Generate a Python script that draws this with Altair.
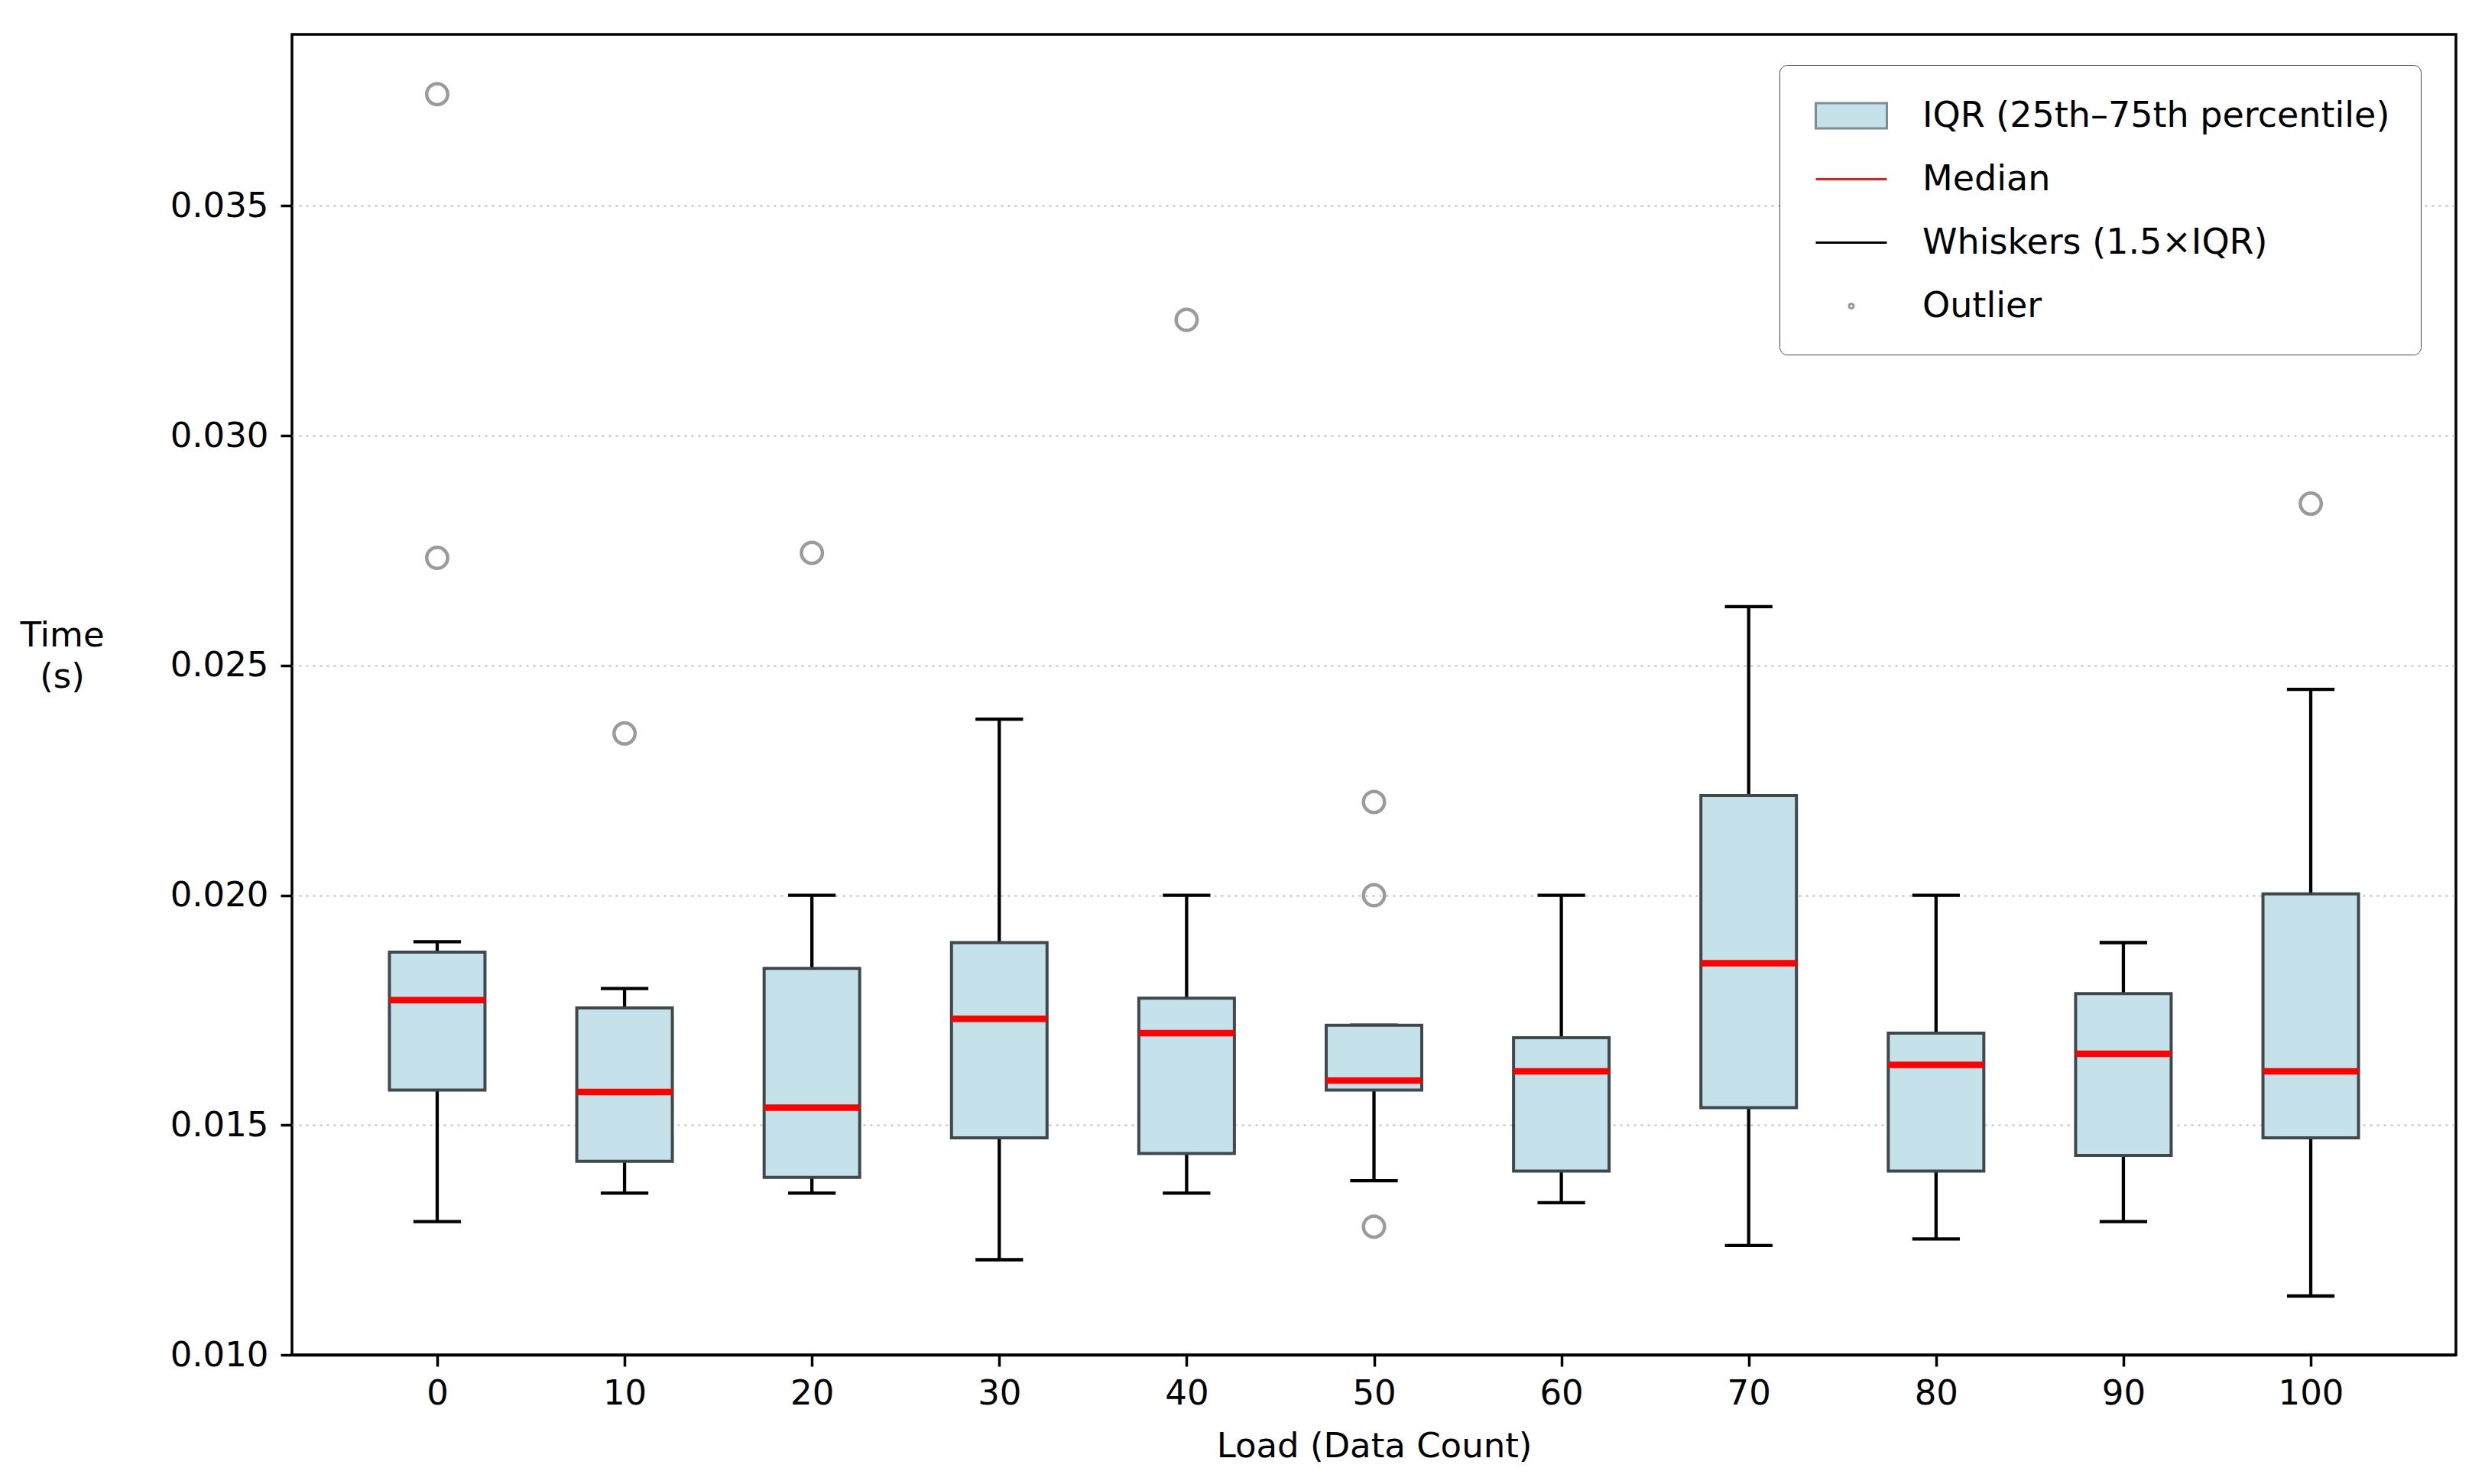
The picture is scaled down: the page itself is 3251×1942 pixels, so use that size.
import altair as alt
import pandas as pd

# ---- data ----
loads = [0, 10, 20, 30, 40, 50, 60, 70, 80, 90, 100]
q1 = [0.01576, 0.01421, 0.01386, 0.01472, 0.01438, 0.01576, 0.01400, 0.01538, 0.01400, 0.01434, 0.01472]
median = [0.01772, 0.01572, 0.01538, 0.01731, 0.01700, 0.01597, 0.01617, 0.01852, 0.01631, 0.01655, 0.01617]
q3 = [0.01876, 0.01755, 0.01841, 0.01897, 0.01776, 0.01717, 0.01690, 0.02217, 0.01700, 0.01786, 0.02003]
whisk_lo = [0.01290, 0.01352, 0.01352, 0.01207, 0.01352, 0.01379, 0.01331, 0.01238, 0.01252, 0.01290, 0.01128]
whisk_hi = [0.01899, 0.01797, 0.02000, 0.02383, 0.02000, 0.01717, 0.02000, 0.02628, 0.02000, 0.01897, 0.02448]

outlier_load = [0, 0, 10, 20, 40, 50, 50, 50, 100]
outlier_val = [0.03743, 0.02734, 0.02352, 0.02745, 0.03252, 0.02203, 0.02000, 0.01279, 0.02852]

legend_items = ["IQR (25th\u201375th percentile)", "Median", "Whiskers (1.5\u00d7IQR)", "Outlier"]
x_ticks = [0, 10, 20, 30, 40, 50, 60, 70, 80, 90, 100]
y_ticks = [0.010, 0.015, 0.020, 0.025, 0.030, 0.035]

boxes = pd.DataFrame({"load": loads, "q1": q1, "med": median, "q3": q3,
                      "lo": whisk_lo, "hi": whisk_hi})
outs = pd.DataFrame({"load": outlier_load, "val": outlier_val})
leg = pd.DataFrame({"item": legend_items})

FONT = "DejaVu Sans"
FS = 45
BOX_FILL = "#c5e2eb"

x_axis = alt.Axis(values=x_ticks, title="Load (Data Count)", grid=False,
                  domain=True, domainColor="black", domainWidth=3.5, zindex=1,
                  tickSize=15, tickWidth=3.5, tickColor="black", labelPadding=13,
                  labelFontSize=FS, labelFont=FONT, labelColor="black",
                  titleFontSize=FS, titleFont=FONT, titleColor="black",
                  titleFontWeight="normal", titlePadding=24)
y_axis = alt.Axis(values=y_ticks, format=".3f", title=["Time", "(s)"], grid=True,
                  gridDash=[3, 6], gridColor="#bdbdbd", gridWidth=2, domain=False,
                  tickSize=15, tickWidth=3.5, tickColor="black", labelPadding=16,
                  labelFontSize=FS, labelFont=FONT, labelColor="black",
                  titleFontSize=FS, titleFont=FONT, titleColor="black",
                  titleFontWeight="normal", titleAngle=0, titleAlign="center",
                  titleBaseline="middle", titleX=-301, titleY=786, titleLineHeight=54)
x_scale = alt.Scale(domain=[-7.75, 107.75], nice=False, zero=False)
y_scale = alt.Scale(domain=[0.0100, 0.03873], nice=False, zero=False)


def X(f):
    return alt.X(f"{f}:Q", scale=x_scale, axis=x_axis)


def Y(f):
    return alt.Y(f"{f}:Q", scale=y_scale, axis=y_axis)


base = alt.Chart(boxes).transform_calculate(
    bl="datum.load - 2.55", br="datum.load + 2.55",
    cl="datum.load - 1.27", cr="datum.load + 1.27")

WK = 4.3
wl = base.mark_rule(color="black", strokeWidth=WK).encode(x=X("load"), y=Y("lo"), y2="q1:Q")
wh = base.mark_rule(color="black", strokeWidth=WK).encode(x=X("load"), y=Y("q3"), y2="hi:Q")
cl = base.mark_rule(color="black", strokeWidth=WK).encode(x=X("cl"), x2="cr:Q", y=Y("lo"))
ch = base.mark_rule(color="black", strokeWidth=WK).encode(x=X("cl"), x2="cr:Q", y=Y("hi"))
rect = base.mark_rect(fill=BOX_FILL, stroke="#3f484c", strokeWidth=4).encode(
    x=X("bl"), x2="br:Q", y=Y("q1"), y2="q3:Q")
med = base.mark_rule(color="#ff0000", strokeWidth=8.5).encode(x=X("bl"), x2="br:Q", y=Y("med"))
pts = alt.Chart(outs).mark_point(shape="circle", filled=False, size=755,
                                 stroke="#727272", strokeWidth=4.5).encode(
    x=X("load"), y=Y("val"))

legend = alt.Legend(title=None, orient="none", legendX=1946, legendY=40,
                    padding=40, labelFontSize=46, labelFont=FONT, labelColor="black",
                    labelOffset=94, labelLimit=2000, symbolSize=2500, rowPadding=33,
                    symbolStrokeWidth=3, symbolOpacity=1, strokeColor="#444444",
                    fillColor="white", cornerRadius=10)
shapes = [
    "M-0.76,-0.66L2.96,-0.66L2.96,0.66L-0.76,0.66Z",
    "M-0.76,0L2.96,0",
    "M-0.76,0L2.96,0",
    "M1.22,0A0.12,0.12 0 1,1 0.98,0A0.12,0.12 0 1,1 1.22,0",
]
dummy = alt.Chart(leg).mark_point(opacity=0).encode(
    fill=alt.Fill("item:N", scale=alt.Scale(domain=legend_items,
                  range=[BOX_FILL, "transparent", "transparent", "transparent"]), legend=legend),
    stroke=alt.Stroke("item:N", scale=alt.Scale(domain=legend_items,
                      range=["#7f8c8d", "#e02020", "black", "#9a9a9a"]), legend=legend),
    shape=alt.Shape("item:N", scale=alt.Scale(domain=legend_items, range=shapes), legend=legend),
)

chart = alt.layer(wl, wh, cl, ch, rect, med, pts, dummy).properties(
    width=2831, height=1728,
    autosize=alt.AutoSizeParams(type="none"),
    padding={"left": 374, "top": 37, "right": 30, "bottom": 161},
    background="white",
).configure_view(stroke="black", strokeWidth=3.5)

chart.save("out.html", embed_options={"renderer": "svg", "actions": False})
